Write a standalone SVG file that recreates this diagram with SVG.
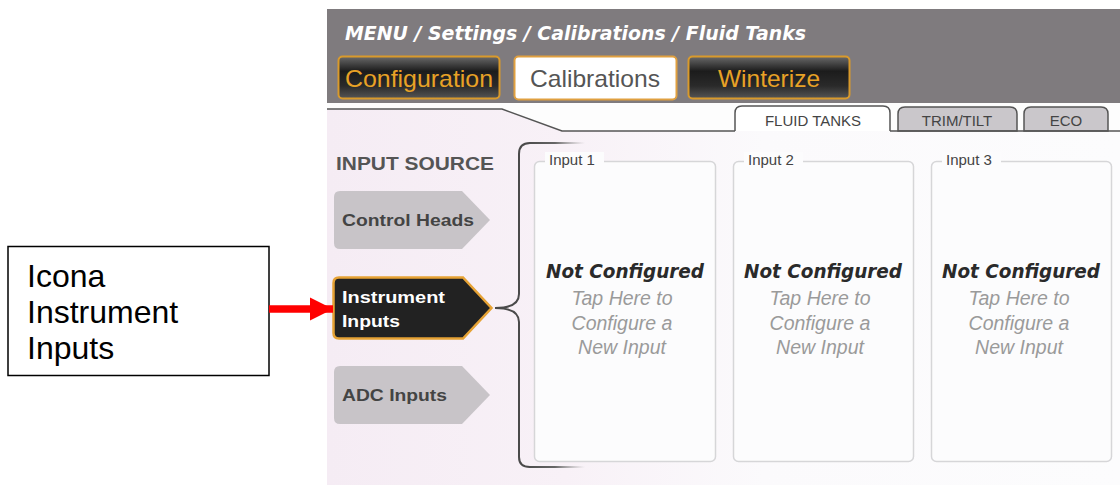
<svg xmlns="http://www.w3.org/2000/svg" width="1120" height="485" viewBox="0 0 1120 485">
<defs>
<linearGradient id="pane" x1="0" y1="0" x2="1" y2="0">
<stop offset="0" stop-color="#f5ecf4"/>
<stop offset="0.3" stop-color="#f8f1f7"/>
<stop offset="0.55" stop-color="#fbfafc"/>
<stop offset="1" stop-color="#fcfcfd"/>
</linearGradient>
<linearGradient id="darkBtn" x1="0" y1="0" x2="0" y2="1">
<stop offset="0" stop-color="#6a6a6a"/>
<stop offset="0.35" stop-color="#1c1c1c"/>
<stop offset="0.7" stop-color="#2a2a2a"/>
<stop offset="1" stop-color="#555"/>
</linearGradient>
<linearGradient id="fadeR" gradientUnits="userSpaceOnUse" x1="525" y1="0" x2="585" y2="0">
<stop offset="0" stop-color="#4a4a4a"/>
<stop offset="0.5" stop-color="#666"/>
<stop offset="1" stop-color="#999" stop-opacity="0"/>
</linearGradient>
<marker id="redHead" viewBox="0 0 10 10" refX="10" refY="5" markerWidth="3.1" markerHeight="3.1" orient="auto" markerUnits="strokeWidth">
<path d="M0,0 L10,5 L0,10 Z" fill="#ff0000"/>
</marker>
<style>
.hdr{font-family:"DejaVu Sans",sans-serif;font-weight:bold;font-style:italic;font-size:19px;fill:#fff}
.btnTxt{font-family:"Liberation Sans",Arial,sans-serif;font-size:24px}
.tab{font-family:"Liberation Sans",Arial,sans-serif;font-size:15px;fill:#444;text-anchor:middle}
.src{font-family:"Liberation Sans",Arial,sans-serif;font-weight:bold;font-size:17px}
.panel{fill:#fcfcfd;stroke:#d6d6d8;stroke-width:1.5}
.plabel{font-family:"Liberation Sans",Arial,sans-serif;font-size:15px;fill:#444}
.nc{font-family:"DejaVu Sans",sans-serif;font-weight:bold;font-style:italic;font-size:19px;fill:#2a2a2a;text-anchor:middle}
.tap{font-family:"Liberation Sans",Arial,sans-serif;font-style:italic;font-size:19.5px;fill:#9a9a9a;text-anchor:middle}
.call{font-family:"Liberation Sans",Arial,sans-serif;font-size:32px;fill:#000}
</style>
</defs>
<rect width="1120" height="485" fill="#fff"/>
<!-- screen background -->
<rect x="327" y="103" width="793" height="382" fill="url(#pane)"/>
<path d="M327,103 H1120 V131 H562 L502,109 H327 Z" fill="#fdfdfd"/>
<!-- header bar -->
<rect x="327" y="9" width="793" height="94" fill="#7f7b7e"/>
<text class="hdr" x="345" y="40" textLength="461" lengthAdjust="spacingAndGlyphs">MENU / Settings / Calibrations / Fluid Tanks</text>
<g id="btn-configuration">
<rect x="338.5" y="56.5" width="161" height="42" rx="4" fill="url(#darkBtn)" stroke="#d99a2b" stroke-width="2"/>
<text class="btnTxt" x="345" y="87" fill="#e8a226" textLength="148" lengthAdjust="spacingAndGlyphs">Configuration</text>
</g>
<g id="btn-calibrations">
<rect x="514.5" y="56.5" width="162" height="43" rx="4" fill="#fff" stroke="#e0a040" stroke-width="2"/>
<text class="btnTxt" x="530" y="87" fill="#555" textLength="130" lengthAdjust="spacingAndGlyphs">Calibrations</text>
</g>
<g id="btn-winterize">
<rect x="688.5" y="56.5" width="161" height="42" rx="4" fill="url(#darkBtn)" stroke="#d99a2b" stroke-width="2"/>
<text class="btnTxt" x="718" y="87" fill="#e8a226" textLength="102" lengthAdjust="spacingAndGlyphs">Winterize</text>
</g>
<!-- tabs -->
<g id="tab-fluid">
<path d="M735,131 V113 Q735,106 742,106 H883 Q890,106 890,113 V131" fill="#fff" stroke="#555" stroke-width="1.5"/>
<text class="tab" x="813" y="126">FLUID TANKS</text>
</g>
<g id="tab-trim">
<path d="M898,131 V114 Q898,107 905,107 H1010 Q1017,107 1017,114 V131 Z" fill="#cac7cb" stroke="#555" stroke-width="1.5"/>
<text class="tab" x="957" y="126">TRIM/TILT</text>
</g>
<g id="tab-eco">
<path d="M1024,131 V114 Q1024,107 1031,107 H1101 Q1108,107 1108,114 V131 Z" fill="#cac7cb" stroke="#555" stroke-width="1.5"/>
<text class="tab" x="1066" y="126">ECO</text>
</g>
<path d="M327,109 H502 L562,131 H735 M890,131 H1120" fill="none" stroke="#555" stroke-width="1.5"/>
<!-- input source -->
<text x="336" y="170" font-family="Liberation Sans, Arial, sans-serif" font-weight="bold" font-size="19" fill="#555" textLength="158" lengthAdjust="spacingAndGlyphs">INPUT SOURCE</text>
<g id="src-control-heads">
<path d="M340,191 H462 L490,220 L462,249 H340 Q334,249 334,243 V197 Q334,191 340,191 Z" fill="#c8c4c8"/>
<text class="src" x="342" y="226" fill="#444" textLength="132" lengthAdjust="spacingAndGlyphs">Control Heads</text>
</g>
<g id="src-instrument-inputs">
<path d="M339,277.5 H463 L491.5,308 L463,338.5 H339 Q333.5,338.5 333.5,333 V283 Q333.5,277.5 339,277.5 Z" fill="#222" stroke="#e6a234" stroke-width="2.5"/>
<text class="src" x="342" y="303" fill="#fff" textLength="103" lengthAdjust="spacingAndGlyphs">Instrument</text>
<text class="src" x="342" y="327" fill="#fff" textLength="58" lengthAdjust="spacingAndGlyphs">Inputs</text>
</g>
<g id="src-adc-inputs">
<path d="M340,366 H462 L490,395 L462,424 H340 Q334,424 334,418 V372 Q334,366 340,366 Z" fill="#c8c4c8"/>
<text class="src" x="342" y="401" fill="#444" textLength="105" lengthAdjust="spacingAndGlyphs">ADC Inputs</text>
</g>
<!-- panels -->
<g id="input-1">
<rect class="panel" x="534.5" y="161.5" width="181" height="300" rx="5"/>
<rect x="545" y="152" width="59" height="16" fill="#fcfcfd"/>
<text class="plabel" x="549" y="165">Input 1</text>
<text class="nc" x="625" y="278" textLength="158" lengthAdjust="spacingAndGlyphs">Not Configured</text>
<text class="tap" x="622" y="305">Tap Here to</text>
<text class="tap" x="622" y="330">Configure a</text>
<text class="tap" x="622" y="354">New Input</text>
</g>
<g id="input-2">
<rect class="panel" x="733.5" y="161.5" width="180" height="300" rx="5"/>
<rect x="744" y="152" width="59" height="16" fill="#fcfcfd"/>
<text class="plabel" x="748" y="165">Input 2</text>
<text class="nc" x="823" y="278" textLength="158" lengthAdjust="spacingAndGlyphs">Not Configured</text>
<text class="tap" x="820" y="305">Tap Here to</text>
<text class="tap" x="820" y="330">Configure a</text>
<text class="tap" x="820" y="354">New Input</text>
</g>
<g id="input-3">
<rect class="panel" x="931.5" y="161.5" width="180" height="300" rx="5"/>
<rect x="942" y="152" width="59" height="16" fill="#fcfcfd"/>
<text class="plabel" x="946" y="165">Input 3</text>
<text class="nc" x="1021" y="278" textLength="158" lengthAdjust="spacingAndGlyphs">Not Configured</text>
<text class="tap" x="1019" y="305">Tap Here to</text>
<text class="tap" x="1019" y="330">Configure a</text>
<text class="tap" x="1019" y="354">New Input</text>
</g>
<!-- callout -->
<g id="callout">
<rect x="8" y="246.5" width="261" height="129" fill="#fff" stroke="#000" stroke-width="1.5"/>
<text class="call" x="27" y="287">Icona</text>
<text class="call" x="27" y="323">Instrument</text>
<text class="call" x="27" y="359">Inputs</text>
</g>
<g id="connectors">
<path d="M530,143 Q519,143 519,154 V294 Q519,308 495,308 Q519,308 519,322 V457 Q519,467 530,467" fill="none" stroke="#4a4a4a" stroke-width="2"/>
<path d="M529,143 H585 M529,467 H585" fill="none" stroke="url(#fadeR)" stroke-width="2"/>
<line x1="269" y1="309" x2="333" y2="309" stroke="#ff0000" stroke-width="7.5" marker-end="url(#redHead)"/>
</g>
</svg>
